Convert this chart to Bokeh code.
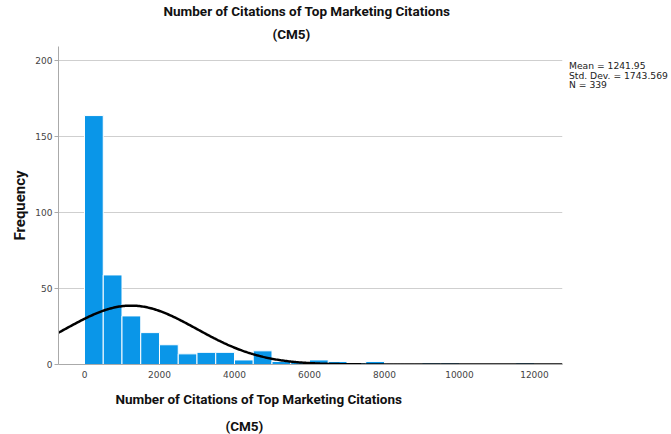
import numpy as np
from bokeh.plotting import figure
from bokeh.layouts import row
from bokeh.models import FixedTicker, Range1d, Title, Div
from bokeh.embed import file_html
from bokeh.resources import INLINE

# Histogram of citation counts, bins of 500
bin_left = [0, 500, 1000, 1500, 2000, 2500, 3000, 3500, 4000, 4500,
            5000, 5500, 6000, 6500, 7000, 7500, 9000, 9500, 11500]
counts = [164, 59, 32, 21, 13, 7, 8, 8, 3, 9,
          2, 2, 3, 2, 1, 2, 1, 1, 1]
bin_width = 500

mean = 1241.95
std_dev = 1743.569
n_obs = 339

x_ticks = [0, 2000, 4000, 6000, 8000, 10000, 12000]
y_ticks = [0, 50, 100, 150, 200]

title_lines = ["Number of Citations of Top Marketing Citations", "(CM5)"]
y_label = "Frequency"
stats_lines = [f"Mean = {mean}", f"Std. Dev. = {std_dev}", f"N = {n_obs}"]

X0, X1 = -693.3, 12746.7
Y0, Y1 = 0, 209.5
PLOT_W = 569
FL, FR, FT, FB = 58, 562, 45, 376  # frame edges on the canvas

p = figure(width=PLOT_W, height=434, output_backend="svg", toolbar_location=None,
           x_range=Range1d(X0, X1), y_range=Range1d(Y0, Y1),
           min_border_left=FL, min_border_right=PLOT_W - FR, min_border_top=FT,
           min_border_bottom=434 - FB, background_fill_color="white",
           border_fill_color="white", outline_line_color=None)

lefts = np.array(bin_left, dtype=float)
p.quad(left=lefts, right=lefts + bin_width, bottom=0, top=counts,
       fill_color="#0a96e8", line_color="white", line_width=1)

# Normal curve scaled to the histogram
xs = np.linspace(X0, X1, 400)
ys = n_obs * bin_width / (std_dev * np.sqrt(2 * np.pi)) * np.exp(-0.5 * ((xs - mean) / std_dev) ** 2)
p.line(xs, ys, line_color="black", line_width=2.5)

p.xgrid.visible = False
p.ygrid.ticker = FixedTicker(ticks=y_ticks[1:])
p.ygrid.grid_line_color = "#cfcfcf"
p.ygrid.grid_line_width = 1

p.xaxis.ticker = FixedTicker(ticks=x_ticks)
p.yaxis.ticker = FixedTicker(ticks=y_ticks)
for ax in (p.xaxis[0], p.yaxis[0]):
    ax.axis_line_color = "#aaaaaa"
    ax.major_tick_line_color = "#aaaaaa"
    ax.minor_tick_line_color = None
    ax.major_tick_in = 0
    ax.major_label_text_font = "DejaVu Sans"
    ax.major_label_text_font_size = "9px"
    ax.major_label_text_color = "#444444"
p.xaxis.major_tick_out = 0
p.xaxis.major_label_standoff = 6
p.yaxis.major_tick_out = 4
p.yaxis.major_label_standoff = 2

HEAD_FONT = "Roboto"


def make_title(text, offset=0, align="left", standoff=0, size="13.5px", line_height=0.95):
    return Title(text=text, align=align, offset=offset, standoff=standoff,
                 text_font=HEAD_FONT, text_font_size=size,
                 text_font_style="bold", text_color="#111111",
                 text_line_height=line_height)


# Chart title: later additions sit further from the frame
p.add_layout(make_title(title_lines[1], 272 - FL, standoff=10, line_height=0.8), "above")
p.add_layout(make_title(title_lines[0], 163 - FL, standoff=0), "above")
# Horizontal axis title below the tick labels
p.add_layout(make_title(title_lines[0], 115 - FL, standoff=16), "below")
p.add_layout(make_title(title_lines[1], 225 - FL, standoff=2), "below")
# Vertical axis title
p.add_layout(make_title(y_label, align="center", standoff=8, size="15px"), "left")

# Summary statistics beside the chart
stats = Div(text="<br>".join(stats_lines), width=671 - PLOT_W, height=434 - 61,
            margin=(61, 0, 0, 0),
            styles={"font-family": "DejaVu Sans", "font-size": "9.2px",
                    "line-height": "9.5px", "color": "#222222",
                    "white-space": "nowrap"})

layout = row(p, stats, spacing=0)
open("out.html", "w").write(file_html(layout, INLINE))
